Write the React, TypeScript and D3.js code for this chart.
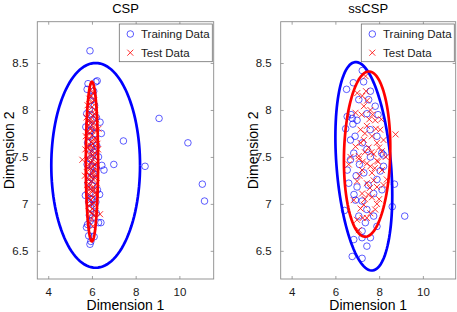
import * as d3 from "d3";
import { useEffect, useRef } from "react";

// ---- data: CSP panel ----
const cspTrain: [number, number][] = [
  [5.91, 8.63], [9.07, 7.91], [7.44, 7.67], [10.39, 7.65], [7.0, 7.42], [8.43, 7.4],
  [11.05, 7.21], [11.15, 7.03], [6.55, 7.36], [6.45, 7.41], [6.41, 6.8], [6.43, 7.75],
  [6.37, 7.87],
  [5.82, 8.28], [6.18, 8.3], [6.24, 8.31], [5.78, 8.22], [6.05, 8.15], [5.95, 8.1],
  [6.12, 8.05], [5.88, 8.0], [5.76, 7.96], [6.2, 7.92], [6.02, 7.9], [5.85, 7.85],
  [6.1, 7.82], [5.72, 7.82], [5.95, 7.78], [6.15, 7.75], [5.9, 7.72], [6.05, 7.68],
  [5.8, 7.65], [6.22, 7.62], [5.98, 7.6], [6.08, 7.55], [5.85, 7.52], [6.3, 7.5],
  [5.93, 7.48], [6.12, 7.45], [5.78, 7.42], [6.02, 7.4], [6.2, 7.38], [5.88, 7.35],
  [6.06, 7.32], [5.96, 7.28], [6.15, 7.25], [5.82, 7.22], [6.0, 7.2], [6.25, 7.15],
  [5.9, 7.12], [6.35, 7.1], [5.7, 7.09], [6.05, 7.05], [5.85, 7.02], [6.12, 6.98],
  [5.95, 6.95], [6.2, 6.9], [5.88, 6.88], [6.02, 6.85], [5.92, 6.82], [6.3, 6.8],
  [5.8, 6.78], [5.75, 6.75], [6.0, 6.72], [6.1, 6.65], [5.85, 6.66], [5.95, 6.6],
  [5.91, 6.57], [6.15, 7.58], [5.92, 7.95], [6.08, 8.2], [5.98, 7.05], [6.18, 7.02],
];
const cspTest: [number, number][] = [
  [5.56, 7.47], [6.37, 6.89],
  [5.95, 8.22], [6.05, 8.18], [5.88, 8.12], [6.1, 8.1], [5.8, 8.05], [6.0, 8.03],
  [6.15, 8.0], [5.9, 7.97], [6.05, 7.94], [5.75, 7.92], [6.2, 7.9], [5.97, 7.87],
  [5.85, 7.84], [6.08, 7.82], [5.92, 7.8], [6.18, 7.78], [5.78, 7.76], [6.02, 7.73],
  [5.88, 7.7], [6.12, 7.68], [5.95, 7.66], [6.25, 7.64], [5.82, 7.62], [6.05, 7.6],
  [5.7, 7.58], [5.98, 7.56], [6.15, 7.54], [5.9, 7.52], [6.1, 7.5], [5.8, 7.48],
  [6.0, 7.46], [6.2, 7.44], [5.86, 7.42], [6.06, 7.4], [5.94, 7.38], [6.16, 7.36],
  [5.76, 7.34], [6.02, 7.32], [5.9, 7.3], [6.12, 7.28], [5.84, 7.26], [6.0, 7.24],
  [6.22, 7.22], [5.92, 7.2], [6.08, 7.18], [5.8, 7.16], [5.98, 7.14], [6.15, 7.12],
  [5.88, 7.1], [6.05, 7.07], [5.95, 7.04], [6.1, 7.01], [5.85, 6.98], [6.02, 6.95],
  [5.92, 6.92], [6.08, 6.88], [5.98, 6.84], [5.9, 6.8], [6.04, 6.76], [6.28, 7.58],
  [5.72, 7.72], [6.3, 7.8], [5.68, 7.3], [5.96, 7.9], [6.04, 7.35], [5.93, 7.62],
  [5.99, 8.08], [6.11, 7.96], [5.83, 7.88], [6.0, 7.78], [6.14, 7.7], [5.87, 7.58],
  [6.03, 7.52], [5.96, 7.44], [6.13, 7.42], [5.83, 7.38], [6.0, 7.28], [6.18, 7.3],
  [5.93, 7.16], [6.1, 7.15], [5.84, 7.06], [6.0, 7.0], [6.15, 6.92], [5.97, 6.9],
  [6.06, 7.64], [5.91, 7.75], [6.08, 7.86], [5.97, 8.15], [6.2, 7.1], [5.78, 7.2],
];

// ---- data: ssCSP panel ----
const ssTrain: [number, number][] = [
  [9.17, 6.87], [6.42, 6.93], [8.7, 7.21], [8.6, 6.97],
  [7.23, 8.42], [6.51, 8.22], [6.82, 8.29], [7.29, 8.3], [7.52, 8.11], [7.07, 8.11],
  [6.54, 7.93], [6.77, 7.91], [6.99, 7.89], [6.47, 7.8], [7.44, 7.96], [7.82, 8.04],
  [7.59, 7.79], [7.9, 7.72], [6.69, 7.68], [7.23, 7.65], [8.12, 7.54], [6.84, 7.54],
  [7.44, 7.58], [6.69, 7.47], [6.61, 7.22], [6.99, 7.18], [6.92, 7.04], [7.3, 7.33],
  [7.9, 7.26], [8.13, 7.15], [8.2, 7.4], [7.75, 7.11], [7.44, 6.94], [7.07, 6.87],
  [7.75, 6.87], [7.37, 6.8], [7.9, 6.76], [6.84, 6.62], [7.22, 6.64], [7.6, 6.64],
  [7.22, 6.71], [6.77, 6.44], [7.22, 6.42], [7.44, 6.55], [7.22, 7.03], [6.54, 7.36],
  [7.6, 7.5], [8.2, 7.52], [6.8, 7.85], [6.72, 7.95], [6.9, 7.72], [7.1, 7.42],
  [7.6, 8.2], [6.95, 7.3], [7.95, 7.95], [8.05, 7.35], [7.5, 7.2], [6.85, 7.1],
];
const ssTest: [number, number][] = [
  [7.38, 8.36], [7.0, 8.18], [7.23, 8.15], [7.3, 8.04], [7.6, 8.0], [6.92, 7.97],
  [7.82, 7.89], [7.44, 7.83], [7.15, 7.79], [8.05, 7.79], [7.67, 7.72], [7.3, 7.68],
  [8.2, 7.68], [7.9, 7.65], [6.92, 7.61], [7.52, 7.6], [8.12, 7.56], [7.07, 7.51],
  [7.75, 7.53], [8.75, 7.74], [6.69, 7.5], [7.07, 7.48], [7.44, 7.43], [7.9, 7.46],
  [7.22, 7.36], [7.67, 7.33], [8.13, 7.36], [6.99, 7.24], [7.44, 7.22], [7.9, 7.18],
  [7.22, 7.11], [7.67, 7.07], [6.84, 7.04], [7.3, 6.99], [7.82, 6.94], [6.99, 6.83],
  [7.44, 6.85], [7.07, 6.72], [6.61, 7.42], [8.35, 7.26], [7.55, 7.9], [7.2, 7.95],
  [7.95, 7.45], [7.6, 7.4], [7.35, 7.55], [7.75, 7.25], [8.0, 7.05], [7.15, 7.65],
  [7.5, 7.1], [7.85, 7.8], [7.4, 8.2], [7.1, 7.3],
  [7.45, 8.1], [7.7, 7.95], [8.1, 7.9], [7.35, 7.75], [8.0, 7.6], [7.25, 7.45],
  [7.8, 7.38], [8.2, 7.2], [7.58, 7.17], [7.35, 7.05], [7.9, 7.0], [7.15, 6.95],
  [7.6, 6.9], [7.25, 6.85], [8.3, 7.5], [7.65, 7.55],
];

// ellipses: [cx, cy, sx, sy, rho]
const cspTrainEllipse = [6.17, 7.41, 2.03, 1.09, 0];
const cspTestEllipse = [6.0, 7.45, 0.28, 0.85, 0];
const ssTrainEllipse = [7.3, 7.4, 1.3, 1.11, -0.28];
const ssTestEllipse = [7.45, 7.53, 1.06, 0.88, 0.08];

const xTicks = [4, 6, 8, 10];
const yTicks = [6.5, 7, 7.5, 8, 8.5];
const legendLabels = ["Training Data", "Test Data"];

const W = 457;
const H = 312;
const FONT = "'Liberation Sans', Arial, sans-serif";
const BLUE = "#0000ff";
const RED = "#ff0000";
const AXC = "#8a8a8a";

type Panel = {
  title: string;
  left: number;
  right: number;
  xMax: number;
  train: [number, number][];
  test: [number, number][];
  trainEll: number[];
  testEll: number[];
};

const panels: Panel[] = [
  { title: "CSP", left: 37.3, right: 213.7, xMax: 11.57, train: cspTrain, test: cspTest, trainEll: cspTrainEllipse, testEll: cspTestEllipse },
  { title: "ssCSP", left: 280.7, right: 455.7, xMax: 11.5, train: ssTrain, test: ssTest, trainEll: ssTrainEllipse, testEll: ssTestEllipse },
];

function ellipsePoints(e: number[]): [number, number][] {
  const [cx, cy, sx, sy, rho] = e;
  const k = Math.sqrt(1 - rho * rho);
  return d3.range(0, 361, 3).map((deg) => {
    const t = (deg * Math.PI) / 180;
    return [cx + sx * Math.cos(t), cy + sy * (rho * Math.cos(t) + k * Math.sin(t))];
  });
}

export default function App() {
  const ref = useRef<SVGSVGElement | null>(null);

  useEffect(() => {
    const el = ref.current;
    if (!el) return;
    const svg = d3.select(el);
    svg.selectAll("*").remove();
    svg.append("rect").attr("width", W).attr("height", H).attr("fill", "#fff");

    const top = 21.7;
    const bottom = 279;

    panels.forEach((p) => {
      const x = d3.scaleLinear().domain([3.5, p.xMax]).range([p.left, p.right]);
      const y = d3.scaleLinear().domain([6.2, 8.94]).range([bottom, top]);
      const g = svg.append("g");

      const styleAxis = (ga: d3.Selection<SVGGElement, unknown, null, undefined>) => {
        ga.select(".domain").remove();
        ga.selectAll(".tick line").attr("stroke", AXC).attr("stroke-width", 0.8);
        ga.selectAll(".tick text").attr("fill", "#1a1a1a").attr("font-size", 11.5).attr("font-family", FONT);
      };

      g.append("g").attr("transform", `translate(0,${bottom})`)
        .call(d3.axisBottom(x).tickValues(xTicks).tickSize(-3).tickPadding(9).tickFormat(d3.format("d")))
        .call(styleAxis);
      g.append("g").attr("transform", `translate(0,${top})`)
        .call(d3.axisTop(x).tickValues(xTicks).tickSize(-3).tickFormat(() => ""))
        .call(styleAxis);
      g.append("g").attr("transform", `translate(${p.left},0)`)
        .call(d3.axisLeft(y).tickValues(yTicks).tickSize(-3).tickPadding(9).tickFormat((v) => String(v)))
        .call(styleAxis);
      g.append("g").attr("transform", `translate(${p.right},0)`)
        .call(d3.axisRight(y).tickValues(yTicks).tickSize(-3).tickFormat(() => ""))
        .call(styleAxis);

      g.append("rect")
        .attr("x", p.left).attr("y", top)
        .attr("width", p.right - p.left).attr("height", bottom - top)
        .attr("fill", "none").attr("stroke", AXC).attr("stroke-width", 0.9);

      // training circles
      g.append("g").selectAll("circle").data(p.train).join("circle")
        .attr("cx", (d) => x(d[0])).attr("cy", (d) => y(d[1])).attr("r", 3.3)
        .attr("fill", "none").attr("stroke", BLUE).attr("stroke-opacity", 0.75).attr("stroke-width", 0.85);

      // test crosses
      const cs = 3;
      g.append("g").selectAll("path").data(p.test).join("path")
        .attr("d", (d) => {
          const cx = x(d[0]), cy = y(d[1]);
          return `M${cx - cs},${cy - cs}L${cx + cs},${cy + cs}M${cx - cs},${cy + cs}L${cx + cs},${cy - cs}`;
        })
        .attr("fill", "none").attr("stroke", RED).attr("stroke-opacity", 0.85).attr("stroke-width", 0.95);

      const line = d3.line<[number, number]>().x((d) => x(d[0])).y((d) => y(d[1]));
      g.append("path").attr("d", line(ellipsePoints(p.trainEll)))
        .attr("fill", "none").attr("stroke", BLUE).attr("stroke-width", 2.7);
      g.append("path").attr("d", line(ellipsePoints(p.testEll)))
        .attr("fill", "none").attr("stroke", RED).attr("stroke-width", 2.7);

      // legend
      const lx = p.right - 94.4;
      const ly = top + 2.3;
      const lg = g.append("g");
      lg.append("rect").attr("x", lx).attr("y", ly).attr("width", 93).attr("height", 37.7)
        .attr("fill", "#fff").attr("stroke", "#6e6e6e").attr("stroke-width", 0.8);
      legendLabels.forEach((lab, i) => {
        const yy = ly + 10 + i * 18.7;
        const mx = lx + 11;
        if (i === 0) {
          lg.append("circle").attr("cx", mx).attr("cy", yy).attr("r", 3.3)
            .attr("fill", "none").attr("stroke", BLUE).attr("stroke-opacity", 0.75).attr("stroke-width", 0.85);
        } else {
          lg.append("path")
            .attr("d", `M${mx - cs},${yy - cs}L${mx + cs},${yy + cs}M${mx - cs},${yy + cs}L${mx + cs},${yy - cs}`)
            .attr("stroke", RED).attr("stroke-opacity", 0.85).attr("stroke-width", 0.95);
        }
        lg.append("text").attr("x", lx + 21.7).attr("y", yy + 4)
          .attr("font-size", 11.5).attr("font-family", FONT).attr("fill", "#1a1a1a").text(lab);
      });

      // title and labels
      const mid = (p.left + p.right) / 2;
      g.append("text").attr("x", mid).attr("y", 12.5).attr("text-anchor", "middle")
        .attr("font-size", 13).attr("font-family", FONT).attr("fill", "#000").text(p.title);
      g.append("text").attr("x", mid).attr("y", 310).attr("text-anchor", "middle")
        .attr("font-size", 14).attr("font-family", FONT).attr("fill", "#000").text("Dimension 1");
      g.append("text")
        .attr("transform", `translate(${p.left - 23},${(top + bottom) / 2}) rotate(-90)`)
        .attr("text-anchor", "middle")
        .attr("font-size", 14).attr("font-family", FONT).attr("fill", "#000").text("Dimension 2");
    });
  }, []);

  return (
    <svg
      ref={ref}
      width={W}
      height={H}
      viewBox={`0 0 ${W} ${H}`}
      style={{ position: "absolute", left: 0, top: 0 }}
    />
  );
}
